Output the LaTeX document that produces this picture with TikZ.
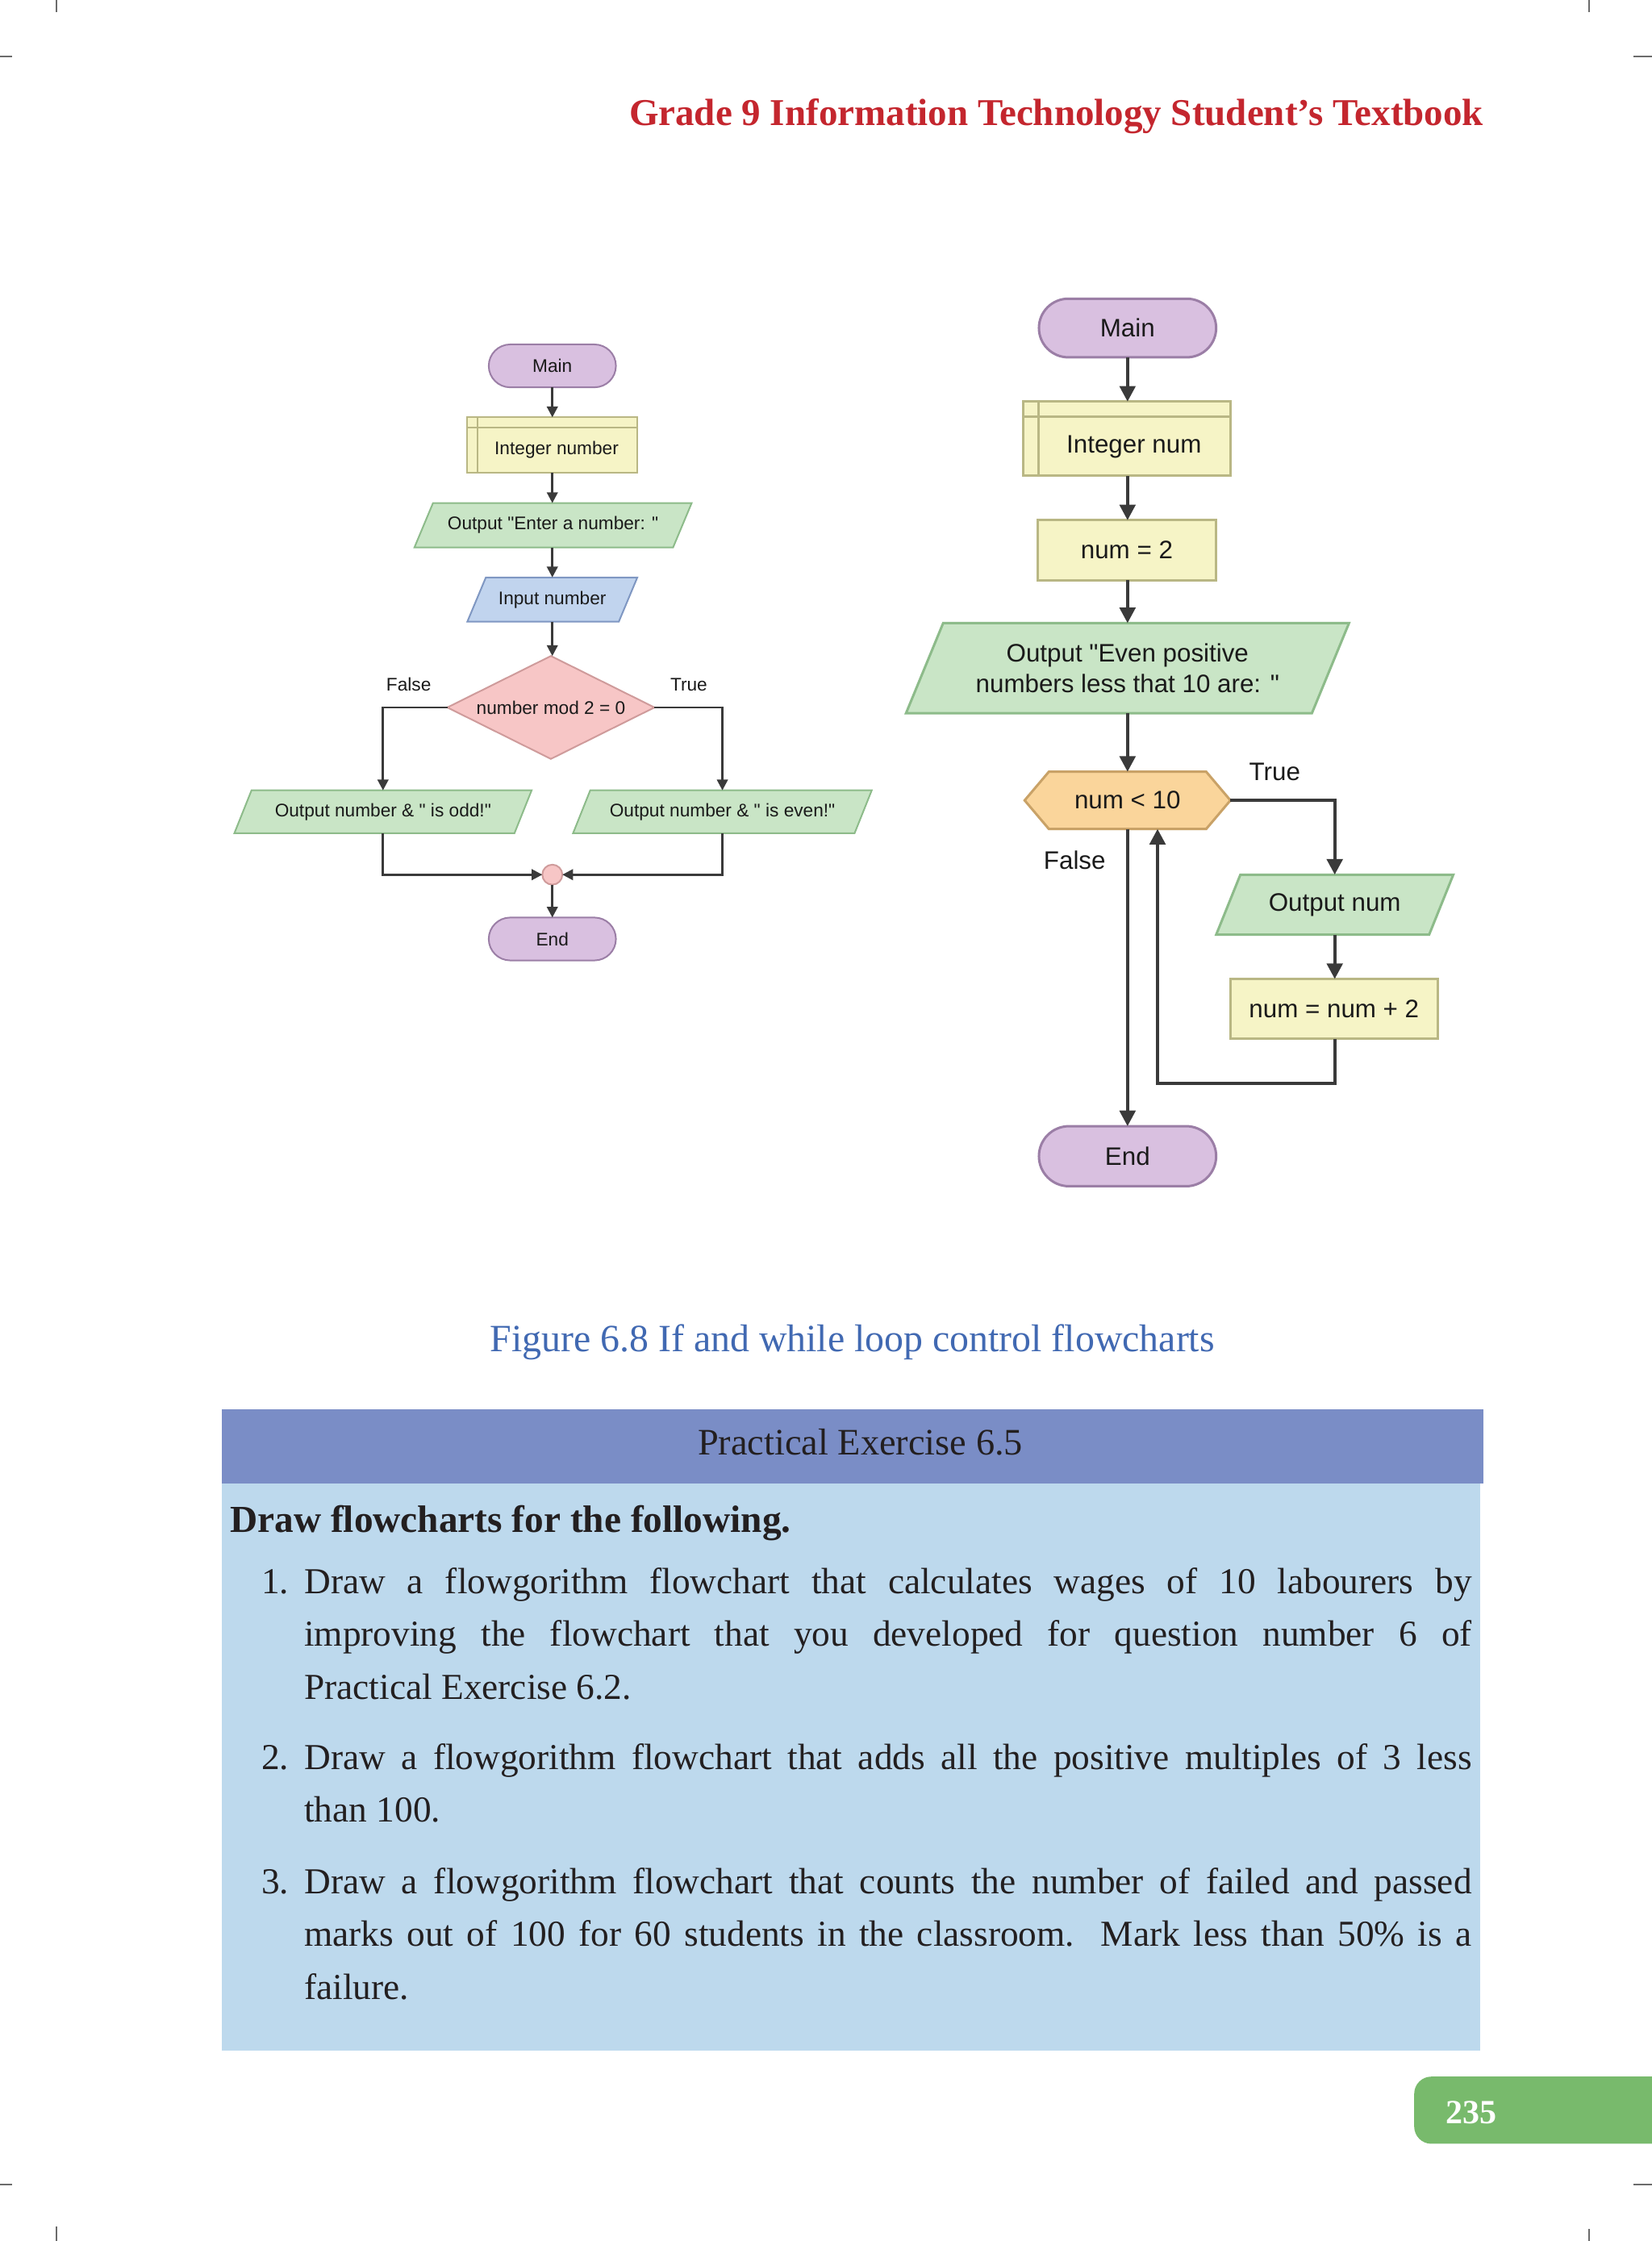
\documentclass[tikz,border=0pt]{standalone}
\usepackage{fontspec}
\setmainfont{Liberation Serif}
\newfontfamily\arialf{Liberation Sans}
\usetikzlibrary{arrows.meta,calc}
\pgfdeclarelayer{pagelayer}
\pgfdeclarelayer{background}
\pgfsetlayers{pagelayer,background,main}
\newcommand\upx{0.5315pt}
\definecolor{hdrRed}{HTML}{C4262E}
\definecolor{capBlue}{HTML}{4169B2}
\definecolor{bandC}{HTML}{7A8DC6}
\definecolor{bodyC}{HTML}{BDD9ED}
\definecolor{tabG}{HTML}{78BA6C}
\definecolor{lineC}{HTML}{3A3A3A}
\definecolor{pillF}{HTML}{D9C0E0}
\definecolor{pillB}{HTML}{9B7EA6}
\definecolor{yelF}{HTML}{F6F4C6}
\definecolor{yelB}{HTML}{B9B784}
\definecolor{grnF}{HTML}{C9E5C6}
\definecolor{grnB}{HTML}{8DBB8A}
\definecolor{bluF}{HTML}{C1D4EE}
\definecolor{bluB}{HTML}{7F97C2}
\definecolor{pnkF}{HTML}{F7C6C6}
\definecolor{pnkB}{HTML}{CF9B9B}
\definecolor{orgF}{HTML}{FAD59B}
\definecolor{orgB}{HTML}{C9A267}
\definecolor{cropC}{HTML}{6B6B6B}
\definecolor{txtC}{HTML}{231F20}
\definecolor{fcTxt}{HTML}{1A1A1A}
\newcommand\drawpara[3]{\begin{pgfonlayer}{background}\path[#3] ([xshift=-#2]#1.south west) -- ([xshift=#2]#1.north west) -- ([xshift=#2]#1.north east) -- ([xshift=-#2]#1.south east) -- cycle;\end{pgfonlayer}}
\tikzset{
  every node/.style={inner sep=0pt, outer sep=0pt},
  ltxt/.style={font=\arialf\fontsize{6.8}{8}\selectfont, text=fcTxt},
  rtxt/.style={font=\arialf\fontsize{9.4}{11.2}\selectfont, text=fcTxt, align=center},
  lline/.style={draw=lineC, line width=0.8pt, -{Triangle[length=4pt,width=4pt]}},
  rline/.style={draw=lineC, line width=1.3pt, -{Triangle[length=5.8pt,width=5.8pt]}},
  lshape/.style={line width=0.6pt},
  rshape/.style={line width=0.9pt},
  crop/.style={draw=cropC, line width=0.6pt},
  bodytxt/.style={font=\fontsize{13.6}{16}\selectfont, text=txtC, anchor=base west},
}
\begin{document}
\begin{tikzpicture}[x=0.5315pt, y=-0.5315pt]
\useasboundingbox (0,0) rectangle (1156,1568.05);
\begin{pgfonlayer}{pagelayer}
\fill[white] (0,0) rectangle (1156,1568.05);
\end{pgfonlayer}

% crop marks
\draw[crop] (39.5,0) -- (39.5,8.5);
\draw[crop] (0,39.5) -- (8.5,39.5);
\draw[crop] (1112,0) -- (1112,8.5);
\draw[crop] (1143,39.5) -- (1156,39.5);
\draw[crop] (0,1528.6) -- (8.5,1528.6);
\draw[crop] (39.5,1558) -- (39.5,1568);
\draw[crop] (1143,1528.6) -- (1156,1528.6);
\draw[crop] (1112,1559.6) -- (1112,1568);

% header
\node[anchor=base east, font=\bfseries\fontsize{14.1}{16}\selectfont, text=hdrRed] (hdr) at (1038,87.5) {Grade 9 Information Technology Student’s Textbook};

% ===== Left flowchart =====
\node[ltxt, draw=pillB, fill=pillF, lshape, minimum width={89*\upx}, minimum height={30*\upx}, rounded corners={15*\upx}] (lmain) at (386.5,256) {Main};
\node[draw=yelB, fill=yelF, lshape, minimum width={119*\upx}, minimum height={39*\upx}] (lint) at (386.5,311.5) {};
\node[ltxt] (lintT) at (389.5,315) {Integer number};
\draw[yelB, lshape] ([yshift={-7*\upx}]lint.north west) -- ([yshift={-7*\upx}]lint.north east);
\draw[yelB, lshape] ([xshift={7*\upx}]lint.north west) -- ([xshift={7*\upx}]lint.south west);
\node[ltxt, minimum width={181*\upx}, minimum height={31*\upx}] (lout) at (387,367.5) {Output "Enter a number: "};
\drawpara{lout}{3.45pt}{draw=grnB, fill=grnF, lshape}
\node[ltxt, minimum width={106*\upx}, minimum height={31*\upx}] (lin) at (386.5,419.5) {Input number};
\drawpara{lin}{3.45pt}{draw=bluB, fill=bluF, lshape}
\node[ltxt, minimum width={145*\upx}, minimum height={72*\upx}] (ldec) at (385.5,495) {number mod 2 = 0};
\begin{pgfonlayer}{background}
\path[draw=pnkB, fill=pnkF, lshape] (ldec.west) -- (ldec.north) -- (ldec.east) -- (ldec.south) -- cycle;
\end{pgfonlayer}
\node[ltxt, minimum width={196*\upx}, minimum height={30*\upx}] (lodd) at (268,568) {Output number \& " is odd!"};
\drawpara{lodd}{3.19pt}{draw=grnB, fill=grnF, lshape}
\node[ltxt, minimum width={197*\upx}, minimum height={30*\upx}] (leven) at (505.5,568) {Output number \& " is even!"};
\drawpara{leven}{3.19pt}{draw=grnB, fill=grnF, lshape}
\node[circle, draw=pnkB, fill=pnkF, lshape, minimum size={14*\upx}] (lcirc) at (386.5,612) {};
\node[ltxt, draw=pillB, fill=pillF, lshape, minimum width={89*\upx}, minimum height={30*\upx}, rounded corners={15*\upx}] (lend) at (386.5,657) {End};
\node[ltxt] (lF) at (286,479) {False};
\node[ltxt] (lT) at (482,479) {True};

\draw[lline] (lmain.south) -- (lint.north);
\draw[lline] (lint.south) -- (lint.south |- lout.north);
\draw[lline] (lint.south |- lout.south) -- (lint.south |- lin.north);
\draw[lline] (lint.south |- lin.south) -- (lint.south |- ldec.north);
\draw[lline] (ldec.west) -| (lodd.north);
\draw[lline] (ldec.east) -| (leven.north);
\draw[lline] (lodd.south) |- (lcirc.west);
\draw[lline] (leven.south) |- (lcirc.east);
\draw[lline] (lcirc.south) -- (lend.north);

% ===== Right flowchart =====
\node[rtxt, draw=pillB, fill=pillF, rshape, minimum width={124*\upx}, minimum height={41*\upx}, rounded corners={20.5*\upx}] (rmain) at (789,229.5) {Main};
\node[draw=yelB, fill=yelF, rshape, minimum width={145*\upx}, minimum height={52*\upx}] (rint) at (788.5,307) {};
\node[rtxt] (rintT) at (793.5,312.5) {Integer num};
\draw[yelB, rshape] ([yshift={-10.5*\upx}]rint.north west) -- ([yshift={-10.5*\upx}]rint.north east);
\draw[yelB, rshape] ([xshift={10.5*\upx}]rint.north west) -- ([xshift={10.5*\upx}]rint.south west);
\node[rtxt, draw=yelB, fill=yelF, rshape, minimum width={125*\upx}, minimum height={42*\upx}] (rnum) at (788.5,385) {num = 2};
\node[rtxt, minimum width={284*\upx}, minimum height={63*\upx}] (rout) at (789,467.5) {Output "Even positive\\numbers less that 10 are: "};
\drawpara{rout}{6.9pt}{draw=grnB, fill=grnF, rshape}
\node[rtxt, minimum width={144*\upx}, minimum height={40*\upx}] (rhex) at (789,560) {num < 10};
\begin{pgfonlayer}{background}
\path[draw=orgB, fill=orgF, rshape] (rhex.west) -- ([xshift=9pt]rhex.north west) -- ([xshift=-9pt]rhex.north east) -- (rhex.east) -- ([xshift=-9pt]rhex.south east) -- ([xshift=9pt]rhex.south west) -- cycle;
\end{pgfonlayer}
\node[rtxt, minimum width={149*\upx}, minimum height={42*\upx}] (rout2) at (934,633) {Output num};
\drawpara{rout2}{4.5pt}{draw=grnB, fill=grnF, rshape}
\node[rtxt, draw=yelB, fill=yelF, rshape, minimum width={145*\upx}, minimum height={42*\upx}] (rinc) at (933.5,706) {num = num + 2};
\node[rtxt, draw=pillB, fill=pillF, rshape, minimum width={124*\upx}, minimum height={42*\upx}, rounded corners={21*\upx}] (rend) at (789,809) {End};
\node[rtxt] (rT) at (892,540) {True};
\node[rtxt] (rF) at (752,602) {False};
\coordinate (rloop) at (810,758);

\draw[rline] (rmain.south) -- (rmain.south |- rint.north);
\draw[rline] (rmain.south |- rint.south) -- (rmain.south |- rnum.north);
\draw[rline] (rmain.south |- rnum.south) -- (rout.north);
\draw[rline] (rout.south) -- (rhex.north);
\draw[rline] (rhex.east) -| (rout2.north);
\draw[rline] (rout2.south) -- (rout2.south |- rinc.north);
\draw[rline] (rout2.south |- rinc.south) |- (rloop) -- (rloop |- rhex.south);
\draw[rline] (rhex.south) -- (rend.north);

% caption
\node[anchor=base, font=\fontsize{14.35}{16}\selectfont, text=capBlue] (cap) at (596.5,946) {Figure 6.8 If and while loop control flowcharts};

% exercise box
\fill[bodyC] (155,1038) rectangle (1036,1435);
\fill[bandC] (155,986) rectangle (1038,1038);
\node[anchor=base, font=\fontsize{13.9}{16}\selectfont, text=txtC] (pe) at (602,1018) {Practical Exercise 6.5};
\node[anchor=base west, font=\bfseries\fontsize{14.2}{16}\selectfont, text=txtC] (dh) at (161,1072) {Draw flowcharts for the following.};

\node[bodytxt] (n1) at (183,1115) {1.};
\node[bodytxt] (b1a) at (213,1115) {\makebox[434.2pt][s]{Draw a flowgorithm flowchart that calculates wages of 10 labourers by}};
\node[bodytxt] (b1b) at (213,1152) {\makebox[434.2pt][s]{improving the flowchart that you developed for question number 6 of}};
\node[bodytxt] (b1c) at (213,1189) {Practical Exercise 6.2.};
\node[bodytxt] (n2) at (183,1238) {2.};
\node[bodytxt] (b2a) at (213,1238) {\makebox[434.2pt][s]{Draw a flowgorithm flowchart that adds all the positive multiples of 3 less}};
\node[bodytxt] (b2b) at (213,1275) {than 100.};
\node[bodytxt] (n3) at (183,1325) {3.};
\node[bodytxt] (b3a) at (213,1325) {\makebox[434.2pt][s]{Draw a flowgorithm flowchart that counts the number of failed and passed}};
\node[bodytxt] (b3b) at (213,1362) {\makebox[434.2pt][s]{marks out of 100 for 60 students in the classroom.\ \ Mark less than 50\% is a}};
\node[bodytxt] (b3c) at (213,1399) {failure.};

% page tab
\fill[tabG, rounded corners={12*\upx}] (989.6,1453) rectangle (1180,1500);
\node[anchor=base west, font=\bfseries\fontsize{12.6}{14}\selectfont, text=white] (pg) at (1011.5,1486) {235};
\end{tikzpicture}
\end{document}
